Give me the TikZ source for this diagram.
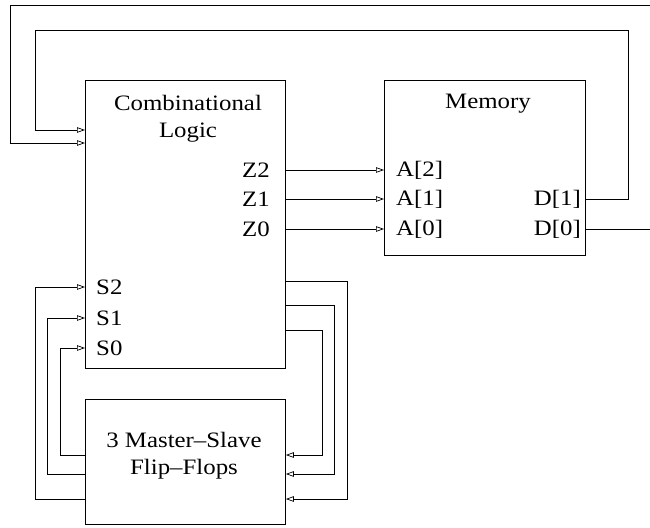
\documentclass[tikz,border=0pt]{standalone}
\usepackage{fontspec}
\setmainfont{Liberation Serif}[FakeStretch=1.13]
\usetikzlibrary{arrows.meta}
\begin{document}
\begin{tikzpicture}[x=1pt,y=-1pt,
  box/.style={draw, line width=0.8pt, inner sep=0pt, anchor=north west},
  wire/.style={draw, line width=0.8pt},
  arr/.style={wire, -{Triangle[open,length=8pt,width=5.5pt,line width=0.7pt]}},
  lbl/.style={inner sep=0pt, font=\fontsize{22}{26}\selectfont},
  ttl/.style={lbl, align=center, font=\fontsize{22}{27}\selectfont}]
\useasboundingbox (0,0) rectangle (650,527);
% boxes
\node[box, minimum width=200pt, minimum height=288pt] (CL) at (85,80) {};
\node[box, minimum width=201pt, minimum height=175pt] (MEM) at (384,80) {};
\node[box, minimum width=200pt, minimum height=125pt] (FF) at (85,399) {};
% titles
\node[ttl] (CLt) at (188,119) {Combinational\\Logic};
\node[ttl] (MEMt) at (488,104) {Memory};
\node[ttl] (FFt) at (184,456) {3 Master--Slave\\Flip--Flops};
% port labels
\node[lbl, anchor=east] (Z2) at (270,170) {Z2};
\node[lbl, anchor=east] (Z1) at (270,199) {Z1};
\node[lbl, anchor=east] (Z0) at (270,229) {Z0};
\node[lbl, anchor=west] (S2) at (96,287) {S2};
\node[lbl, anchor=west] (S1) at (96,318) {S1};
\node[lbl, anchor=west] (S0) at (96,348) {S0};
\node[lbl, anchor=west] (A2) at (396,170) {A[2]};
\node[lbl, anchor=west] (A1) at (396,199) {A[1]};
\node[lbl, anchor=west] (A0) at (396,229) {A[0]};
\node[lbl, anchor=east] (D1) at (581,199) {D[1]};
\node[lbl, anchor=east] (D0) at (581,229) {D[0]};
% free ends at the right edge
\coordinate (outD0) at (650,229);
\coordinate (inTop) at (650,5);
% Z -> A
\draw[arr] (CL.east |- 0,170) -- (MEM.west |- 0,170);
\draw[arr] (CL.east |- 0,199) -- (MEM.west |- 0,199);
\draw[arr] (CL.east |- 0,229) -- (MEM.west |- 0,229);
% D[1] feedback
\draw[arr] (MEM.east |- 0,199) -- (628,199) -- (628,30) -- (35,30) -- (35,130) -- (CL.west |- 0,130);
% D[0] out and outer feedback
\draw[wire] (MEM.east |- 0,229) -- (outD0);
\draw[arr] (inTop) -- (10,5) -- (10,143) -- (CL.west |- 0,143);
% CL -> FF (right side)
\draw[arr] (CL.east |- 0,281) -- (347,281) -- (347,499) -- (FF.east |- 0,499);
\draw[arr] (CL.east |- 0,305) -- (334,305) -- (334,474) -- (FF.east |- 0,474);
\draw[arr] (CL.east |- 0,330) -- (322,330) -- (322,455) -- (FF.east |- 0,455);
% FF -> CL (left side)
\draw[arr] (FF.west |- 0,499) -- (35,499) -- (35,287) -- (CL.west |- 0,287);
\draw[arr] (FF.west |- 0,474) -- (47,474) -- (47,318) -- (CL.west |- 0,318);
\draw[arr] (FF.west |- 0,455) -- (60,455) -- (60,348) -- (CL.west |- 0,348);
\end{tikzpicture}
\end{document}
